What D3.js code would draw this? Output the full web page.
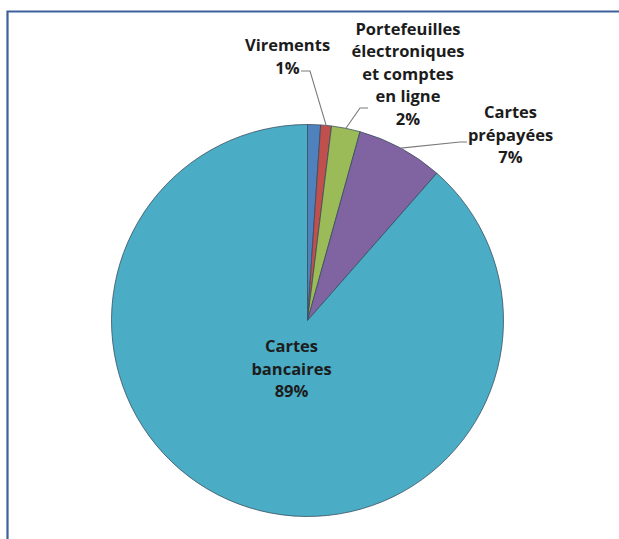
<!DOCTYPE html>
<html>
<head>
<meta charset="utf-8">
<script src="https://cdn.jsdelivr.net/npm/d3@7"></script>
<style>
  html, body { margin: 0; padding: 0; background: #fff; }
  svg { display: block; }
</style>
</head>
<body>
<svg id="chart" width="619" height="539"></svg>
<script>
// ---- Data ----
const categories = ["Autres", "Virements", "Portefeuilles électroniques et comptes en ligne", "Cartes prépayées", "Cartes bancaires"];
const values = [1.07, 0.89, 2.36, 7.15, 88.53];
const labelLines = [
  null,
  ["Virements"],
  ["Portefeuilles", "électroniques", "et comptes", "en ligne"],
  ["Cartes", "prépayées"],
  ["Cartes", "bancaires"]
];
const colors = ["#4F81BD", "#C0504D", "#9BBB59", "#8064A2", "#4BACC6"];

// ---- Layout (relative to pie centre) ----
const W = 619, H = 539;
const cx = 307.5, cy = 320.5, R = 196;
const lineH = 22.5;
// label anchor: text centre x (dx) and first baseline (dy); leader: elbow and end points
const labelLayout = [
  null,
  { dx: -20, dy: -269.5, leader: [[2.5, -249.5], [-6.5, -249.5]] },
  { dx: 100.5, dy: -286, leader: [[52.5, -212.5], [60.5, -212.5]] },
  { dx: 203, dy: -202.5, leader: [[152.5, -178.5], [159.5, -178.5]] },
  { dx: -16, dy: 31.5, leader: null }
];

const svg = d3.select("#chart");

// frame
svg.append("path")
  .attr("d", `M7.5,${H + 5} L7.5,11.5 L${W + 5},11.5`)
  .attr("fill", "none")
  .attr("stroke", "#3d619b")
  .attr("stroke-width", 2.2);

const pie = d3.pie().sort(null).value(d => d)(values);
const arc = d3.arc().innerRadius(0).outerRadius(R);

const g = svg.append("g").attr("transform", `translate(${cx},${cy})`);

g.selectAll("path.slice")
  .data(pie)
  .join("path")
  .attr("class", "slice")
  .attr("d", arc)
  .attr("fill", (d, i) => colors[i])
  .attr("stroke", "#34495a")
  .attr("stroke-opacity", 0.75)
  .attr("stroke-width", 1);

const total = d3.sum(values);
const font = "'Open Sans', Lato, sans-serif";

pie.forEach((d, i) => {
  const lines = labelLines[i];
  const lay = labelLayout[i];
  if (!lines || !lay) return;
  const allLines = lines.concat([Math.round(d.value / total * 100) + "%"]);

  if (lay.leader) {
    const mid = (d.startAngle + d.endAngle) / 2;
    const p0 = [R * Math.sin(mid), -R * Math.cos(mid)];
    const pts = [p0].concat(lay.leader);
    g.append("path")
      .attr("d", d3.line()(pts))
      .attr("fill", "none")
      .attr("stroke", "#7a7a7a")
      .attr("stroke-width", 1.1);
  }

  const t = g.append("text")
    .attr("text-anchor", "middle")
    .attr("font-family", font)
    .attr("font-weight", "bold")
    .attr("font-size", 16.5)
    .attr("fill", "#1c1c1c");
  allLines.forEach((s, k) => {
    t.append("tspan")
      .attr("x", lay.dx)
      .attr("y", lay.dy + k * lineH)
      .text(s);
  });
});
</script>
</body>
</html>
